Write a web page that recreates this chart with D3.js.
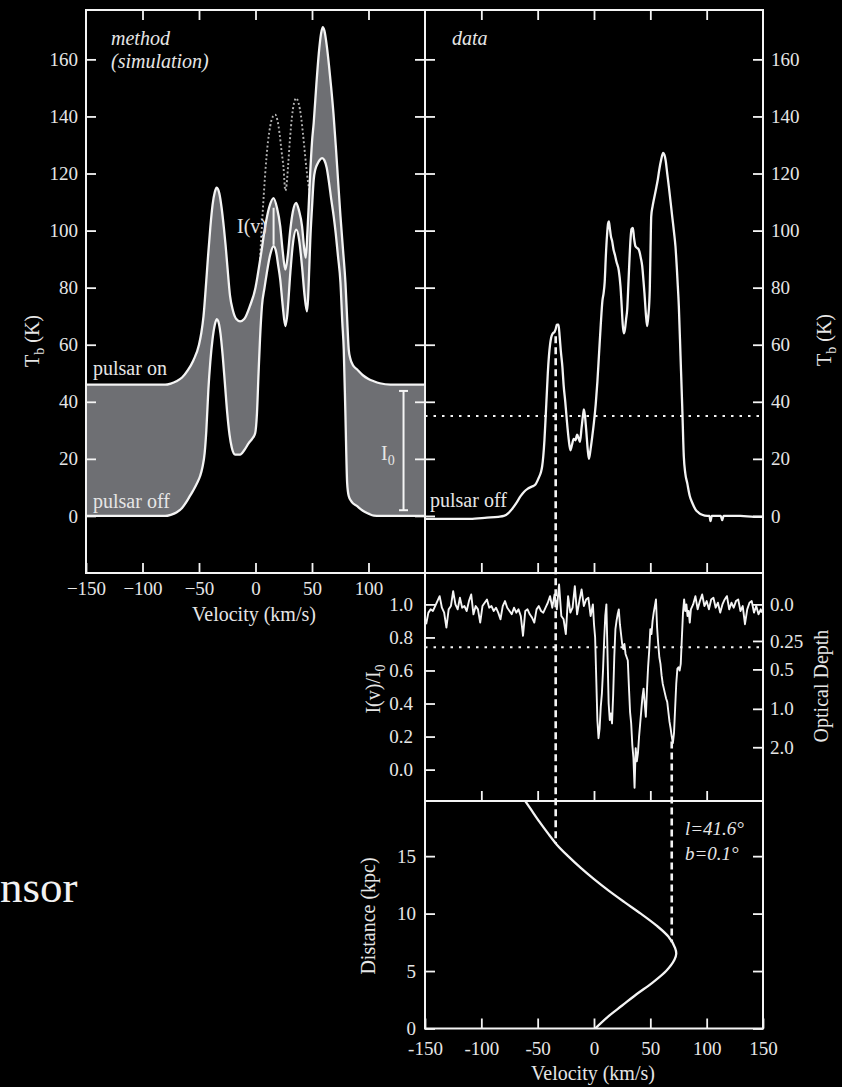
<!DOCTYPE html>
<html>
<head>
<meta charset="utf-8">
<script src="https://cdn.jsdelivr.net/npm/d3@7"></script>
<style>
  html, body { margin: 0; padding: 0; background: #000; }
  svg { display: block; }
</style>
</head>
<body>
<svg id="fig" width="842" height="1087"></svg>
<script>
// ---------------- data ----------------
const velTicks = [-150, -100, -50, 0, 50, 100, 150];
const velInnerTicks = [-100, -50, 0, 50, 100];
const velLabelsTop = [-150, -100, -50, 0, 50, 100];
const tbTicks = [0, 20, 40, 60, 80, 100, 120, 140, 160];
const ratioTicks = [0, 0.2, 0.4, 0.6, 0.8, 1.0];
const tauTicks = [0, 0.25, 0.5, 1.0, 2.0];
const tauLabels = ["0.0", "0.25", "0.5", "1.0", "2.0"];
const distTicks = [0, 5, 10, 15];

// simulated spectrum, pulsar on  [velocity km/s, Tb K]
const simOn = [[-150,46],[-80,46],[-75,46.4],[-70,47.2],[-65,48.5],[-60,51],[-55,54.5],[-50,60],[-48,64],[-46,70],
  [-44,80],[-42,91],[-40,101],[-38,109],[-36,113.5],[-34.3,115],[-32,113],[-30,108],[-28,101],[-26.5,95],[-25,88],
  [-22.5,77],[-20,72],[-17,69],[-13.6,68.2],[-10,69],[-5,73.5],[0,80],[2,84.5],[5,92],[8.6,101.5],[12,108],[16,111.4],
  [19,108],[21.9,101.5],[24,93],[26.4,86.3],[28.5,91],[30.8,100.3],[33,106.5],[36,109.7],[38.5,107],[41.2,101.5],
  [43,94],[44.5,90.5],[46,100],[47,108],[48.4,120],[50,131],[51.5,137.7],[54,152],[56,162],[58,169],[59.5,171.3],
  [61,170],[63,165],[65,158],[67,150],[69,141],[71,130],[73,118],[75.2,105],[77.5,93],[79.6,81.7],[81,70],[82.5,58.3],
  [84,55],[86,53],[90,51.3],[95,49.3],[100,48],[104.7,47.2],[110,46.5],[119.5,46],[150,46]];

// simulated spectrum, pulsar off
const simOff = [[-150,0],[-80,0],[-75,0.4],[-70,1.2],[-65,2.8],[-61,5],[-58,7],[-55,9],[-52,11.3],[-49,14],[-47,17],
  [-45,22],[-43.5,30],[-41.7,44.3],[-40,54],[-38,62],[-36,67],[-34.3,69],[-33,68.3],[-31,64],[-29,56],[-27,46],[-25,36],
  [-23,28.5],[-21,24],[-18,21.5],[-13.6,21.5],[-10,23],[-6,25.5],[-3,27],[-0.3,29],[1.3,36],[2.7,50],[4,62],[5.7,73.5],
  [8,80],[10,85.1],[13,91.5],[16,94.5],[18.5,92],[20,88],[21.9,82.8],[24,74],[26.4,66.5],[28,70],[30.8,85.1],[33,95],
  [36.1,100.3],[38.5,97],[41.2,87.3],[43.5,77],[45.5,71.7],[46.5,76],[47.5,86],[48.5,96.8],[50,108],[51.5,117.8],
  [53,121.5],[55,123.5],[57,124.8],[59,125.4],[61,124.6],[63,122],[65,117],[67,111],[69.2,105],[71,99],[73,91],
  [75.2,81.7],[76.8,68],[78.1,58.3],[79.6,35],[81.1,11.6],[82.5,7],[85,5],[90,3.4],[95,1.8],[100,0.8],[104.7,0.1],
  [110,0],[150,0]];

// unabsorbed emission over the two absorbed components (dotted)
const simUnabsorbed = [[4,90],[6,104],[8.6,120],[11,131],[13,136.5],[15.2,139.8],[17.5,140.6],[19.5,138.5],[21.3,134],
  [23,128],[24.8,122],[26.4,114],[27.5,116],[28.8,122.5],[30.5,132],[32.3,140],[34,144.5],[36.1,146.4],[38.2,144.5],
  [40.3,140],[42,134],[43.5,128],[45,122],[46.5,117],[47.8,114]];

// measured emission spectrum, pulsar off
const obsOff = [[-150,-1],[-130,-1],[-110,-1],[-95,-0.6],[-85,-0.3],[-80,0],[-76,1],[-73,2.3],[-69,4.5],[-65,7],[-62,8.5],
  [-59,9.5],[-55,10.3],[-52,11],[-49,13.4],[-47,15.5],[-46,17.4],[-45,21],[-44,26.5],[-43,34],[-42,42],[-41,50],[-40,56],
  [-39,60],[-38,62.5],[-36.5,64],[-35,64.5],[-34,65.5],[-33,67],[-31.5,67],[-30.5,63],[-29.5,58],[-28,52],[-27,46],
  [-25.5,40],[-24,33],[-22.5,27],[-21,23],[-19.5,25],[-18,27],[-16.5,26.5],[-15,28.5],[-13.5,27],[-12.5,26],[-11,31],
  [-9.5,36],[-9,37.3],[-8,35],[-7,30.5],[-5.5,23],[-4.5,20],[-3,23.5],[-1.5,28],[0,33],[1.5,39],[3,47],[4.5,57],[6,67],
  [7.5,75.5],[8.5,78],[9.5,82],[10.5,91],[11.5,98],[12.5,102.5],[13.2,103.2],[14,101],[15,98],[16,96.5],[17.5,93],
  [18.5,91.6],[20,89],[22,86],[23.5,80.5],[24.5,74],[25.5,67],[26.4,64],[27.5,65.5],[28.5,69],[29.5,72.5],[30.5,81],
  [31.5,90],[32.5,97.5],[33.3,100.5],[34.5,100.9],[35.5,97.5],[36.8,94.5],[38,94],[39.8,93.3],[41.5,90.5],[42.8,87.5],
  [44,82],[44.8,78],[46,71],[47.2,66.5],[48.2,70],[49.5,79.3],[50.2,94],[50.8,105],[52,108.5],[53.1,110.8],[55,114.5],
  [56.6,117.8],[58,121.5],[59.6,124.8],[61.4,127.2],[62.5,126.5],[63.5,124.8],[65,120],[66.4,115.5],[68,110],[69.4,105],
  [71,99.5],[72.3,94.5],[73.5,87],[74.4,80.5],[75.3,73.5],[76.8,56],[78.3,38.4],[79.7,20.9],[81,15],[82.7,11.6],[85,7],
  [87.2,4.6],[90,2.3],[93,1.1],[96,0.4],[100.5,0],[102.5,0],[103.4,-1.8],[104.5,0],[112.5,0],[113.8,-1.5],[115,0],
  [130,0],[142,-0.3],[150,-0.3]];

// absorption spectrum I(v)/I0
const absRatio = [[-149,0.88],[-147,0.95],[-145,0.97],[-143,0.96],[-141,0.99],[-139,1.02],[-137,1.05],[-135,0.98],
  [-133,0.95],[-131,0.86],[-129,0.97],[-127,0.99],[-125,1.08],[-123,1.00],[-121,0.97],[-119,1.04],[-117,0.98],
  [-115,0.99],[-113,0.96],[-111,1.02],[-109,1.06],[-107,0.94],[-105,0.99],[-103,0.97],[-101,0.89],[-99,0.99],
  [-97,1.01],[-95,1.03],[-93,0.98],[-91,0.99],[-89,0.96],[-87,0.98],[-85,0.95],[-83,0.91],[-81,0.99],[-79,1.02],
  [-77,0.98],[-75,0.96],[-73,0.94],[-71,0.98],[-69,0.95],[-67,0.97],[-65,0.93],[-63,0.81],[-61,0.96],[-59,0.97],
  [-57,0.94],[-55,0.92],[-53,0.89],[-51,0.97],[-49,0.99],[-47,0.96],[-45,0.95],[-43,0.98],[-41,1.01],[-39,1.05],
  [-37,0.98],[-35,1.06],[-33,0.97],[-31,1.12],[-29,0.93],[-27,0.91],[-25,0.82],[-23,1.05],[-21,0.95],[-19,0.98],
  [-17,1.11],[-15,0.94],[-13,1.02],[-11,1.09],[-9,0.99],[-7,1.03],[-5,1.04],[-3,0.93],[-1,1.00],
  [0,0.88],[1,0.80],[2,0.55],[3,0.30],[4,0.19],[5,0.25],[6,0.38],[7,0.46],[8,0.60],[9,0.78],[10,0.93],[11,1.00],
  [12,0.70],[13,0.40],[14,0.30],[15,0.34],[16,0.28],[17,0.45],[18,0.68],[19,0.85],[20,0.90],[21,0.94],[22,0.97],
  [23,0.88],[24,0.82],[25,0.76],[26,0.73],[27,0.76],[28,0.70],[29,0.68],[30,0.66],[31,0.50],[32,0.35],[33,0.28],
  [34,0.15],[35,0.07],[36,-0.11],[37,0.13],[38,0.05],[39,0.10],[40,0.20],[41,0.28],[42,0.36],[43,0.44],[44,0.49],
  [45,0.40],[46,0.32],[47,0.48],[48,0.62],[49,0.72],[50,0.85],[51,0.82],[52,0.90],[53,0.95],[54,0.99],[55,1.03],
  [56,0.86],[57,0.76],[58,0.68],[59,0.64],[60,0.57],[61,0.52],[62,0.49],[63,0.46],[64,0.43],[65,0.41],[66,0.35],
  [67,0.29],[68,0.25],[69,0.20],[70,0.16],[71,0.22],[72,0.37],[73,0.52],[74,0.61],[75,0.62],[76,0.60],[77,0.64],
  [78,0.80],[79,0.95],[80,1.03],[81,0.96],[82,1.00],[83,0.93],[84,0.96],[85,0.89],[86,0.97],
  [88,1.00],[90,1.05],[92,0.97],[94,1.02],[96,1.06],[98,0.99],[100,1.02],[102,0.97],[104,1.03],[106,1.04],[108,0.98],
  [110,1.01],[112,0.95],[114,1.00],[116,1.03],[118,1.05],[120,0.97],[122,1.01],[124,0.98],[126,1.02],[128,1.03],
  [130,0.96],[132,0.99],[134,0.88],[136,0.97],[138,1.01],[140,1.02],[142,0.95],[144,0.99],[146,0.94],[148,0.97],
  [149,0.95]];

// rotation-curve velocity along the line of sight  [distance kpc, velocity km/s]
const rotation = [[0,1],[1,12],[2,25],[3,38],[4,52],[5,64],[6,71.5],[6.5,73],[7,72],[8,66],[9,55],[10,41.5],[11,27],
  [12,13],[13,0],[14,-12],[15,-23],[16,-33],[17,-41],[18,-48.5],[19,-55.5],[19.8,-61]];

// reference levels and velocity markers
const tbCut = 35;
const ratioCut = 0.74;
const markerVel = [-34, 69];
const markerStartTb = 63;        // first marker starts at the emission peak
const markerStartRatio = 0.17;   // second marker starts at the absorption dip
const markerEndDist = [16.1, 7.5];
const i0Bar = { vel: 131, lo: 2, hi: 43.8 };
const ivBar = { vel: 16, lo: 95, hi: 108 };

// ---------------- drawing ----------------
const SERIF = '"Liberation Serif","Times New Roman",Times,serif';
const INK = "#f4f4f4";
const TXT = "#e6e6e6";
const GREY = "#6e6f73";
const DOTS = "#b4b4b4";

const svg = d3.select("#fig");
svg.append("rect").attr("width", 842).attr("height", 1087).attr("fill", "#000");

const xL = d3.scaleLinear().domain([-150, 150]).range([86, 425]);
const xR = d3.scaleLinear().domain([-150, 150]).range([425, 763]);
const yTb = d3.scaleLinear().domain([-20, 177.3]).range([573, 10]);
const yRatio = d3.scaleLinear().domain([-0.19, 1.19]).range([801, 573]);
const yDist = d3.scaleLinear().domain([0, 19.8]).range([1028.5, 801]);

const defs = svg.append("defs");
function clip(id, x0, y0, x1, y1) {
  defs.append("clipPath").attr("id", id).append("rect")
    .attr("x", x0).attr("y", y0).attr("width", x1 - x0).attr("height", y1 - y0);
  return `url(#${id})`;
}
const clipL = clip("cl", 86, 10, 425, 573);
const clipR = clip("cr", 425, 10, 763, 573);
const clipM = clip("cm", 425, 573, 763, 801);
const clipB = clip("cb", 425, 801, 763, 1028.5);

// --- simulation panel ---
const gSim = svg.append("g").attr("clip-path", clipL);
const areaUnder = d3.area().x(d => xL(d[0])).y0(yTb(-20)).y1(d => yTb(d[1])).curve(d3.curveMonotoneX);
gSim.append("path").datum(simOn).attr("d", areaUnder).attr("fill", GREY);
gSim.append("path").datum(simOff).attr("d", areaUnder).attr("fill", "#000");
const lineSim = d3.line().x(d => xL(d[0])).y(d => yTb(d[1])).curve(d3.curveMonotoneX);
gSim.append("path").datum(simUnabsorbed).attr("d", lineSim).attr("fill", "none")
  .attr("stroke", DOTS).attr("stroke-width", 1.9).attr("stroke-dasharray", "1.9,2.4");
[simOn, simOff].forEach(s => gSim.append("path").datum(s).attr("d", lineSim)
  .attr("fill", "none").attr("stroke", INK).attr("stroke-width", 2.3));

// error-bar style markers for I0 and I(v)
function vbar(g, x, y0, y1, cap) {
  g.append("line").attr("x1", x).attr("x2", x).attr("y1", y0).attr("y2", y1)
    .attr("stroke", INK).attr("stroke-width", 2);
  if (cap) [y0, y1].forEach(y => g.append("line").attr("x1", x - cap).attr("x2", x + cap)
    .attr("y1", y).attr("y2", y).attr("stroke", INK).attr("stroke-width", 2));
}
vbar(svg, xL(i0Bar.vel), yTb(i0Bar.lo), yTb(i0Bar.hi), 4.5);
vbar(svg, xL(ivBar.vel), yTb(ivBar.lo), yTb(ivBar.hi), 0);

// --- measured emission panel ---
const lineObs = d3.line().x(d => xR(d[0])).y(d => yTb(d[1])).curve(d3.curveMonotoneX);
svg.append("g").attr("clip-path", clipR).append("path").datum(obsOff).attr("d", lineObs)
  .attr("fill", "none").attr("stroke", INK).attr("stroke-width", 2.3);
svg.append("line").attr("x1", xR(-150)).attr("x2", xR(150)).attr("y1", yTb(tbCut)).attr("y2", yTb(tbCut))
  .attr("stroke", INK).attr("stroke-width", 2).attr("stroke-dasharray", "2.5,6");

// --- absorption panel ---
const lineAbs = d3.line().x(d => xR(d[0])).y(d => yRatio(d[1]));
svg.append("g").attr("clip-path", clipM).append("path").datum(absRatio).attr("d", lineAbs)
  .attr("fill", "none").attr("stroke", INK).attr("stroke-width", 1.9).attr("stroke-linejoin", "round");
svg.append("line").attr("x1", xR(-150)).attr("x2", xR(150)).attr("y1", yRatio(ratioCut)).attr("y2", yRatio(ratioCut))
  .attr("stroke", INK).attr("stroke-width", 2).attr("stroke-dasharray", "2.5,6");

// --- rotation-curve panel ---
const lineRot = d3.line().x(d => xR(d[1])).y(d => yDist(d[0])).curve(d3.curveCatmullRom);
svg.append("g").attr("clip-path", clipB).append("path").datum(rotation).attr("d", lineRot)
  .attr("fill", "none").attr("stroke", INK).attr("stroke-width", 2.3);

// --- dashed velocity markers across panels ---
const markerStartY = [yTb(markerStartTb), yRatio(markerStartRatio)];
markerVel.forEach((v, i) => {
  svg.append("line").attr("x1", xR(v)).attr("x2", xR(v))
    .attr("y1", markerStartY[i]).attr("y2", yDist(markerEndDist[i]))
    .attr("stroke", INK).attr("stroke-width", 2.6).attr("stroke-dasharray", "7,4");
});

// --- frames ---
[[86, 10, 425, 573], [425, 10, 763, 573], [425, 573, 763, 801], [425, 801, 763, 1028.5]].forEach(([x0, y0, x1, y1]) =>
  svg.append("rect").attr("x", x0).attr("y", y0).attr("width", x1 - x0).attr("height", y1 - y0)
    .attr("fill", "none").attr("stroke", INK).attr("stroke-width", 2));

// --- axes ---
function putAxis(axis, tx, ty) {
  const g = svg.append("g").attr("transform", `translate(${tx},${ty})`).call(axis);
  g.select(".domain").remove();
  g.attr("font-family", SERIF).attr("font-size", 19);
  g.selectAll(".tick line").attr("stroke", INK).attr("stroke-width", 1.8);
  g.selectAll(".tick text").attr("fill", TXT);
  return g;
}
const none = () => "";
const minusFmt = d => (d < 0 ? "\u2212" + Math.abs(d) : String(d));

// simulation panel
putAxis(d3.axisLeft(yTb).tickValues(tbTicks).tickSize(-10).tickPadding(8), 86, 0);
putAxis(d3.axisRight(yTb).tickValues(tbTicks).tickSize(-10).tickFormat(none), 425, 0);
putAxis(d3.axisTop(xL).tickValues(velInnerTicks).tickSize(-10).tickFormat(none), 0, 10);
putAxis(d3.axisBottom(xL).tickValues(velLabelsTop).tickSize(-10).tickPadding(8.5).tickFormat(minusFmt), 0, 573);
// measured emission panel
putAxis(d3.axisLeft(yTb).tickValues(tbTicks).tickSize(-10).tickFormat(none), 425, 0);
putAxis(d3.axisRight(yTb).tickValues(tbTicks).tickSize(-10).tickPadding(8), 763, 0);
putAxis(d3.axisTop(xR).tickValues(velInnerTicks).tickSize(-10).tickFormat(none), 0, 10);
putAxis(d3.axisBottom(xR).tickValues(velInnerTicks).tickSize(-10).tickFormat(none), 0, 573);
// absorption panel
putAxis(d3.axisLeft(yRatio).tickValues(ratioTicks).tickSize(-10).tickPadding(12).tickFormat(d3.format(".1f")), 425, 0);
putAxis(d3.axisRight(yRatio).tickValues(tauTicks.map(t => Math.exp(-t))).tickSize(-10).tickPadding(7)
  .tickFormat((d, i) => tauLabels[i]), 763, 0);
putAxis(d3.axisBottom(xR).tickValues(velInnerTicks).tickSize(-10).tickFormat(none), 0, 801);
// rotation-curve panel
putAxis(d3.axisLeft(yDist).tickValues(distTicks).tickSize(-10).tickPadding(9), 425, 0);
putAxis(d3.axisRight(yDist).tickValues(distTicks).tickSize(-10).tickFormat(none), 763, 0);
putAxis(d3.axisBottom(xR).tickValues(velTicks).tickSize(-10).tickPadding(13).tickFormat(d => String(d)), 0, 1028.5);

// --- text ---
function label(x, y, str, opts = {}) {
  return svg.append("text").attr("x", x).attr("y", y).text(str)
    .attr("fill", TXT).attr("font-family", SERIF).attr("font-size", opts.size || 20)
    .attr("font-style", opts.italic ? "italic" : "normal")
    .attr("text-anchor", opts.anchor || "start");
}
// rotated axis title made of [text, subscript?] parts
function vtitle(x, y, parts) {
  const t = svg.append("text").attr("transform", `translate(${x},${y}) rotate(-90)`)
    .attr("text-anchor", "middle").attr("fill", TXT).attr("font-family", SERIF).attr("font-size", 20);
  let shifted = false;
  parts.forEach(([s, sub]) => {
    const sp = t.append("tspan").text(s);
    if (sub && !shifted) { sp.attr("font-size", 14).attr("dy", 5); shifted = true; }
    else if (!sub && shifted) { sp.attr("dy", -5); shifted = false; }
  });
  return t;
}

label(111, 45, "method", { italic: true });
label(111, 68, "(simulation)", { italic: true });
label(452, 45, "data", { italic: true });
label(93, 375, "pulsar on");
label(93, 508, "pulsar off");
label(430, 507, "pulsar off");
label(237, 233, "I(v)");
const i0 = label(381, 460, "I");
i0.append("tspan").text("0").attr("font-size", 14).attr("dy", 5);
label(685, 835, "l=41.6\u00B0", { italic: true, size: 19 });
label(685, 860, "b=0.1\u00B0", { italic: true, size: 19 });

label(254, 621, "Velocity (km/s)", { anchor: "middle" });
label(593, 1080, "Velocity (km/s)", { anchor: "middle" });
vtitle(39, 341, [["T"], ["b", true], [" (K)"]]);
vtitle(831, 340, [["T"], ["b", true], [" (K)"]]);
vtitle(380, 689, [["I(v)/I"], ["0", true]]);
vtitle(828, 686, [["Optical Depth"]]);
vtitle(375, 916, [["Distance (kpc)"]]);

label(0, 902, "nsor", { size: 45 }).attr("fill", "#f2f2f2");
</script>
</body>
</html>
